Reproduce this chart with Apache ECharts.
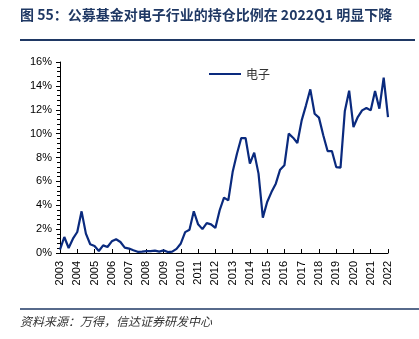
<!DOCTYPE html>
<html><head><meta charset="utf-8">
<script src="https://cdn.jsdelivr.net/npm/echarts@6/dist/echarts.min.js"></script>
<style>html,body{margin:0;padding:0;background:#fff}#c{width:419px;height:339px}</style>
</head><body><div id="c"></div>
<script>
const startYear = 2003;
const endYear = 2022;
const seriesName = '电子';
const values = [0.28,1.34,0.42,1.2,1.76,3.49,1.62,0.73,0.59,0.17,0.64,0.5,0.98,1.15,0.92,0.45,0.37,0.23,0.1,0.12,0.15,0.15,0.2,0.12,0.22,0.08,0.12,0.35,0.8,1.75,1.95,3.5,2.4,2.0,2.5,2.4,2.1,3.58,4.64,4.41,6.78,8.32,9.63,9.63,7.49,8.41,6.65,2.96,4.27,5.1,5.81,6.98,7.35,10.0,9.66,9.21,11.11,12.37,13.71,11.67,11.34,9.86,8.54,8.54,7.2,7.15,11.9,13.6,10.55,11.39,11.95,12.15,11.95,13.57,12.09,14.69,11.39];
const categories = [];
for (let y = startYear; y <= endYear; y++) for (let q = 1; q <= 4; q++) categories.push(y + 'Q' + q);
categories.length = values.length;
const titleText = '图 55：公募基金对电子行业的持仓比例在 2022Q1 明显下降';
const sourceText = '资料来源：万得，信达证券研发中心';

const chart = echarts.init(document.getElementById('c'), null, {renderer:'canvas'});
chart.setOption({
  animation:false,
  backgroundColor:'#fff',
  graphic:[
    {type:'text', left:20, top:8, style:{text:titleText, font:'bold 14px "Noto Sans CJK SC", sans-serif', fill:'#1f3864'}},
    {type:'line', shape:{x1:20,y1:40,x2:415,y2:40}, style:{stroke:'#1f3864', lineWidth:2}},
    {type:'line', shape:{x1:20,y1:309,x2:419,y2:309}, style:{stroke:'#1f3864', lineWidth:1.5}},
    {type:'text', left:20, top:315, style:{text:sourceText, font:'italic 12px "Noto Sans CJK SC", sans-serif', fill:'#333'}}
  ],
  legend:{
    data:[seriesName], left:204, top:63, itemWidth:32, itemHeight:2, itemGap:4,
    icon:'rect',
    textStyle:{fontFamily:'"Noto Sans CJK SC", sans-serif', fontSize:12, color:'#333'}
  },
  grid:{left:60, right:31, top:62, bottom:86},
  xAxis:{
    type:'category', data:categories, boundaryGap:false,
    axisLine:{lineStyle:{color:'#000', width:1}},
    axisTick:{inside:true, length:4, interval:3, lineStyle:{color:'#000'}},
    axisLabel:{interval:3, rotate:90, color:'#000', fontSize:11, fontFamily:'"Liberation Sans", Arial, sans-serif', margin:8,
      formatter:v=>v.slice(0,4)},
    splitLine:{show:false}
  },
  yAxis:{
    type:'value', min:0, max:16, interval:2,
    axisLine:{show:true, lineStyle:{color:'#000', width:1}},
    axisTick:{show:true, length:4, lineStyle:{color:'#000'}},
    minorTick:{show:true, splitNumber:5, length:3, lineStyle:{color:'#000'}},
    axisLabel:{formatter:'{value}%', color:'#000', fontSize:11, fontFamily:'"Liberation Sans", Arial, sans-serif', margin:8},
    splitLine:{show:false}
  },
  series:[{
    name:seriesName, type:'line', data:values, symbol:'none',
    lineStyle:{color:'#0a2a7e', width:2.2}, itemStyle:{color:'#0a2a7e'}
  }]
});
</script></body></html>
